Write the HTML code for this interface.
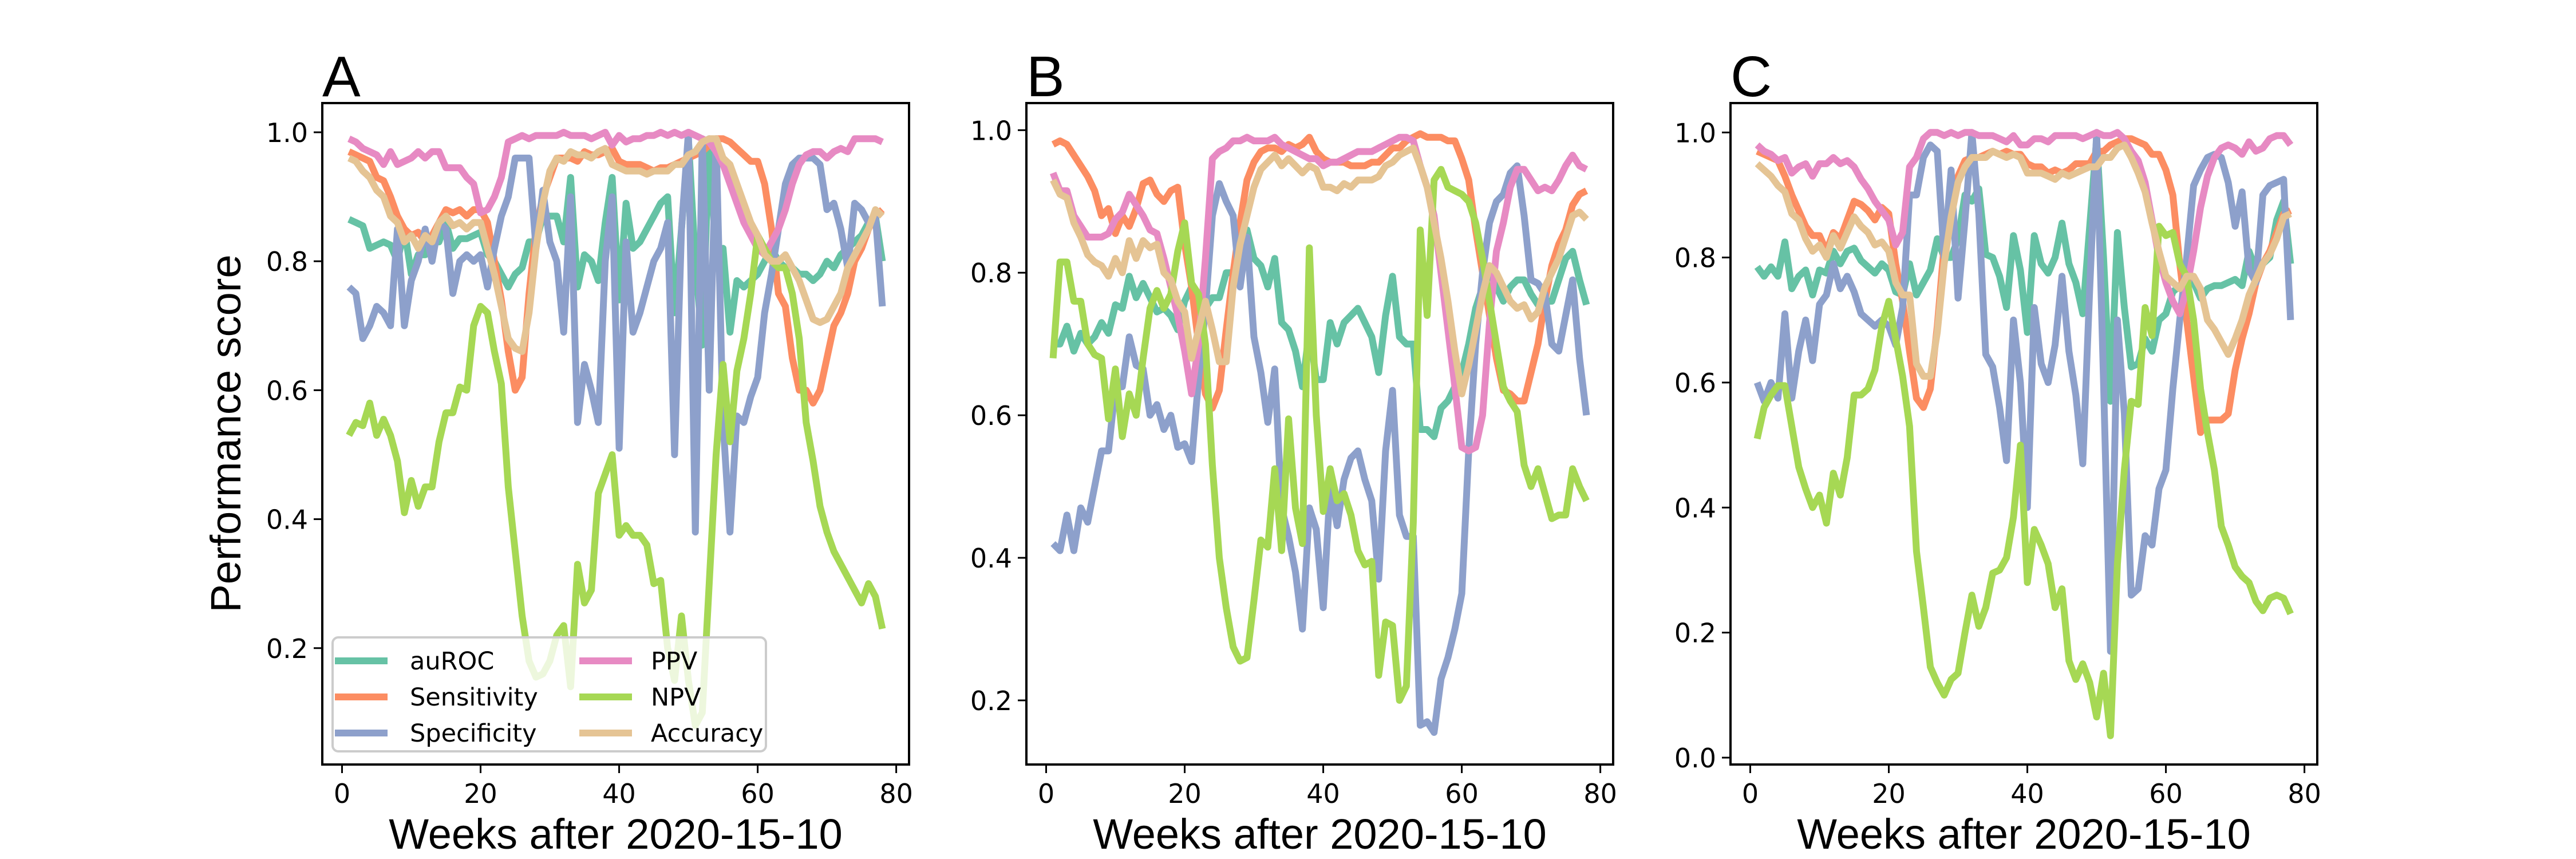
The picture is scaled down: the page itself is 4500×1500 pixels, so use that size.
<!DOCTYPE html>
<html><head><meta charset="utf-8"><style>
html,body{margin:0;padding:0;background:#fff;}
svg{display:block;}
.tick{font-family:"DejaVu Sans","Liberation Sans",sans-serif;font-size:46px;fill:#000;}
.lab{font-family:"Liberation Sans",sans-serif;fill:#000;}
.leg{font-family:"DejaVu Sans","Liberation Sans",sans-serif;font-size:43px;fill:#000;}
</style></head><body>
<svg id="fig" width="4500" height="1500" viewBox="0 0 4500 1500" xmlns="http://www.w3.org/2000/svg"></svg>
<script>
const seriesNames = ["auROC","Sensitivity","Specificity","PPV","NPV","Accuracy"];
const seriesColors = ["#66c2a5","#fc8d62","#8da0cb","#e78ac3","#a6d854","#e5c494"];
const panelLetters = ["A","B","C"];
const xTicks = [0,20,40,60,80];
const yTicksA = [0.2,0.4,0.6,0.8,1.0];
const yTicksB = [0.2,0.4,0.6,0.8,1.0];
const yTicksC = [0.0,0.2,0.4,0.6,0.8,1.0];

const aAuroc = [.865,.86,.855,.82,.825,.83,.825,.80,.85,.78, .81,.81,.84,.83,.86,.82,.835,.835,.84,.845, .81,.80,.78,.76,.78,.79,.83,.83,.87,.87, .87,.83,.93,.76,.81,.80,.77,.86,.93,.74, .89,.82,.83,.85,.87,.89,.90,.72,.85,.99, .80,.67,.99,.80,.82,.69,.77,.76,.77,.78, .80,.82,.80,.79,.79,.78,.78,.77,.78,.80, .79,.81,.82,.83,.84,.86,.87,.80];
const aSens = [.97,.965,.96,.955,.93,.925,.90,.87,.85,.84, .845,.83,.84,.86,.88,.875,.88,.87,.88,.88, .86,.80,.74,.66,.60,.62,.75,.85,.90,.93, .96,.96,.96,.955,.97,.965,.965,.97,.975,.955, .95,.95,.95,.945,.94,.945,.945,.95,.955,.96, .965,.97,.98,.99,.99,.985,.975,.965,.955,.955, .92,.85,.75,.73,.65,.60,.60,.58,.60,.65, .70,.72,.75,.80,.82,.85,.87,.88];
const aSpec = [.76,.75,.68,.70,.73,.72,.70,.85,.70,.77, .80,.85,.80,.86,.85,.75,.80,.81,.80,.81, .76,.82,.87,.90,.96,.96,.96,.82,.91,.83, .80,.69,.90,.55,.64,.60,.55,.80,.90,.51, .83,.69,.72,.76,.80,.82,.86,.50,.85,1.0, .38,.99,.60,.99,.55,.38,.56,.55,.59,.62, .72,.78,.85,.92,.95,.96,.96,.96,.95,.88, .89,.85,.79,.89,.88,.86,.87,.73];
const aPpv = [.99,.985,.975,.97,.965,.95,.97,.95,.955,.96, .97,.96,.97,.97,.945,.945,.945,.93,.92,.875, .88,.90,.93,.985,.99,.995,.99,.995,.995,.995, .995,1.0,.995,.995,.995,.99,.995,1.0,.98,.995, .985,.99,.99,.995,.995,1.0,.995,1.0,.995,1.0, .995,.99,.985,.97,.95,.92,.89,.86,.84,.82, .81,.83,.85,.88,.92,.95,.965,.97,.97,.96, .97,.975,.97,.99,.99,.99,.99,.985];
const aNpv = [.53,.55,.545,.58,.53,.555,.53,.49,.41,.46, .42,.45,.45,.52,.565,.565,.605,.60,.70,.73, .72,.66,.61,.45,.35,.25,.18,.155,.16,.18, .22,.235,.14,.33,.27,.29,.44,.47,.50,.375, .39,.375,.375,.36,.30,.305,.20,.15,.25,.15, .08,.10,.30,.50,.64,.52,.63,.68,.75,.84, .82,.80,.79,.79,.75,.68,.55,.49,.42,.38, .35,.33,.31,.29,.27,.30,.28,.23];
const aAcc = [.96,.955,.94,.93,.91,.90,.87,.86,.83,.84, .82,.84,.83,.86,.87,.855,.86,.85,.86,.86, .82,.78,.73,.68,.665,.66,.72,.82,.89,.94, .96,.955,.97,.965,.965,.96,.97,.975,.95,.945, .94,.94,.94,.935,.94,.94,.94,.95,.95,.965, .97,.985,.99,.99,.96,.95,.92,.89,.86,.84, .81,.80,.80,.81,.79,.77,.74,.71,.705,.71, .73,.75,.79,.81,.83,.85,.88,.87];

const bAuroc = [.70,.70,.725,.69,.715,.70,.71,.73,.715,.755, .75,.795,.765,.785,.765,.745,.75,.74,.72,.76, .78,.75,.75,.765,.765,.80,.80,.82,.86,.82, .81,.78,.82,.73,.72,.69,.64,.72,.65,.65, .73,.70,.73,.74,.75,.73,.71,.66,.74,.795, .71,.70,.70,.58,.58,.57,.61,.62,.64,.66, .70,.75,.78,.80,.78,.76,.78,.79,.79,.77, .755,.76,.76,.79,.82,.83,.79,.755];
const bSens = [.98,.985,.98,.965,.95,.935,.915,.88,.89,.855, .88,.865,.89,.925,.93,.91,.90,.915,.92,.84, .78,.70,.63,.61,.635,.72,.80,.87,.93,.955, .97,.975,.975,.97,.98,.975,.98,.99,.97,.96, .955,.955,.955,.95,.95,.95,.955,.955,.965,.975, .975,.985,.99,.995,.99,.99,.99,.985,.985,.96, .93,.86,.80,.74,.68,.635,.63,.62,.62,.66, .70,.76,.81,.84,.86,.895,.91,.915];
const bSpec = [.42,.41,.46,.41,.47,.45,.50,.55,.55,.64, .64,.71,.67,.665,.60,.615,.58,.60,.555,.56, .535,.65,.75,.88,.925,.90,.88,.78,.85,.71, .66,.59,.665,.47,.43,.38,.30,.47,.44,.33, .50,.445,.51,.54,.55,.51,.48,.37,.55,.635, .46,.43,.43,.165,.17,.155,.23,.26,.30,.35, .55,.70,.80,.87,.90,.91,.94,.95,.88,.79, .785,.77,.70,.69,.74,.79,.68,.60];
const bPpv = [.94,.915,.915,.88,.865,.85,.85,.85,.855,.875, .885,.91,.895,.88,.86,.855,.82,.78,.74,.69, .63,.70,.82,.96,.97,.975,.985,.985,.99,.985, .985,.985,.99,.98,.975,.97,.965,.96,.96,.95, .955,.955,.96,.965,.97,.97,.97,.975,.98,.985, .99,.99,.985,.95,.92,.88,.80,.72,.64,.555, .55,.555,.60,.73,.83,.87,.92,.945,.945,.93, .915,.92,.915,.93,.95,.965,.95,.945];
const bNpv = [.68,.815,.815,.76,.76,.70,.685,.68,.595,.665, .57,.63,.60,.68,.75,.775,.75,.77,.83,.87, .785,.77,.70,.53,.40,.33,.275,.255,.26,.34, .425,.415,.525,.41,.595,.47,.42,.835,.60,.465, .525,.48,.49,.46,.41,.39,.395,.235,.31,.305, .20,.22,.45,.86,.74,.93,.945,.92,.915,.91, .90,.87,.82,.76,.70,.64,.62,.605,.53,.50, .525,.49,.455,.46,.46,.525,.50,.48];
const bAcc = [.93,.91,.905,.87,.85,.825,.815,.81,.795,.82, .80,.845,.82,.845,.835,.84,.80,.79,.76,.745, .68,.72,.76,.72,.675,.675,.78,.84,.88,.92, .945,.955,.965,.95,.96,.95,.94,.95,.945,.92, .92,.915,.925,.92,.93,.93,.93,.935,.95,.955, .965,.97,.975,.95,.92,.87,.82,.76,.69,.63, .67,.72,.77,.81,.80,.78,.76,.75,.755,.735, .745,.78,.80,.82,.85,.88,.885,.875];

const cAuroc = [.785,.77,.785,.77,.825,.75,.77,.78,.74,.78, .775,.81,.79,.81,.815,.795,.785,.775,.79,.78, .745,.74,.79,.74,.76,.78,.83,.80,.80,.83, .90,.89,.91,.805,.80,.77,.72,.835,.78,.68, .835,.79,.775,.80,.855,.79,.76,.71,.85,.99, .80,.57,.84,.72,.625,.63,.67,.65,.70,.71, .745,.755,.76,.76,.735,.75,.755,.755,.76,.765, .755,.81,.78,.79,.80,.86,.89,.79];
const cSens = [.97,.965,.96,.955,.93,.90,.875,.85,.835,.835, .81,.84,.83,.86,.89,.885,.875,.86,.88,.87, .79,.73,.65,.575,.56,.59,.69,.82,.88,.93, .955,.96,.96,.965,.97,.965,.97,.965,.965,.95, .945,.945,.935,.94,.935,.94,.95,.95,.95,.97, .97,.98,.985,.99,.99,.985,.98,.965,.965,.94, .90,.79,.70,.61,.52,.54,.54,.54,.55,.62, .67,.71,.76,.79,.81,.84,.87,.875];
const cSpec = [.60,.57,.60,.575,.71,.575,.65,.70,.635,.725, .74,.79,.75,.77,.745,.71,.70,.69,.70,.69, .66,.72,.90,.90,.96,.98,.97,.80,.94,.735, .86,1.0,.87,.645,.625,.56,.475,.70,.60,.40, .72,.63,.60,.66,.77,.65,.58,.47,.75,1.0, .60,.17,.70,.55,.26,.27,.355,.34,.43,.46, .59,.70,.80,.915,.94,.96,.965,.96,.92,.85, .905,.78,.76,.90,.915,.92,.925,.70];
const cPpv = [.98,.97,.965,.955,.96,.935,.945,.95,.93,.95, .95,.96,.95,.955,.945,.925,.91,.89,.875,.86, .82,.84,.945,.96,.99,1.0,1.0,.995,1.0,.995, 1.0,1.0,.995,.995,.995,.99,.985,.995,.98,.98, .99,.99,.985,.995,.995,.995,.995,.99,.995,1.0, .995,.995,1.0,.99,.97,.955,.92,.86,.80,.76, .73,.71,.75,.81,.88,.93,.96,.975,.98,.975, .965,.985,.97,.975,.99,.995,.995,.98];
const cNpv = [.51,.56,.58,.595,.595,.53,.465,.43,.40,.42, .375,.455,.42,.48,.58,.58,.59,.62,.69,.73, .67,.61,.53,.33,.24,.145,.12,.10,.125,.135, .20,.26,.21,.24,.295,.30,.32,.385,.50,.28, .365,.34,.31,.24,.27,.155,.125,.15,.12,.065, .135,.035,.31,.46,.57,.565,.72,.675,.85,.835, .84,.79,.77,.70,.59,.52,.46,.37,.34,.305, .29,.28,.25,.235,.255,.26,.255,.23];
const cAcc = [.95,.94,.93,.915,.905,.87,.86,.83,.81,.82, .80,.835,.815,.84,.865,.85,.84,.82,.825,.81, .76,.74,.74,.63,.61,.61,.68,.79,.865,.92, .945,.96,.96,.96,.97,.965,.96,.965,.96,.935, .935,.935,.93,.925,.935,.93,.935,.94,.945,.945, .96,.96,.975,.98,.96,.935,.905,.855,.81,.77, .76,.75,.77,.77,.75,.70,.685,.665,.645,.67, .70,.74,.765,.79,.805,.83,.865,.87];

const panelData = [
  [aAuroc,aSens,aSpec,aPpv,aNpv,aAcc],
  [bAuroc,bSens,bSpec,bPpv,bNpv,bAcc],
  [cAuroc,cSens,cSpec,cPpv,cNpv,cAcc]
];
const panelYTicks = [yTicksA,yTicksB,yTicksC];
const panelYLim = [[0.0195,1.0453],[0.110,1.038],[-0.011,1.047]];

const NS = "http://www.w3.org/2000/svg";
const svg = document.getElementById("fig");
function mk(tag, attrs, parent){
  const e = document.createElementNS(NS, tag);
  for (const k in attrs) e.setAttribute(k, attrs[k]);
  (parent||svg).appendChild(e);
  return e;
}
const W = 1025, TOP = 180, BOT = 1335, XMIN = -2.85, XMAX = 81.85;
const lefts = [563, 1793, 3023];
const defs = mk("defs", {});

for (let p = 0; p < 3; p++) {
  const L = lefts[p];
  const [ymin, ymax] = panelYLim[p];
  const xs = v => L + (v - XMIN) / (XMAX - XMIN) * W;
  const ys = v => BOT - (v - ymin) / (ymax - ymin) * (BOT - TOP);
  const g = mk("g", {});
  
  

  const cp = mk("clipPath", {id: "clip" + p}, defs);
  mk("rect", {x: L, y: TOP, width: W, height: BOT - TOP}, cp);

  // series
  const lines = mk("g", {"clip-path": "url(#clip" + p + ")"}, g);
  for (let s = 0; s < 6; s++) {
    const vals = panelData[p][s];
    const d = vals.map((v, i) => (i ? "L" : "M") + xs(i + 1).toFixed(1) + "," + ys(v).toFixed(1)).join(" ");
    const path = mk("path", {d: d, fill: "none", stroke: seriesColors[s], "stroke-width": 12, "stroke-linejoin": "round", "stroke-linecap": "butt"}, lines);
    
    
  }

  // x ticks
  xTicks.forEach(t => {
    const x = xs(t);
    mk("line", {x1: x, x2: x, y1: BOT, y2: BOT + 15, stroke: "#000", "stroke-width": 3}, g);
    const tx = mk("text", {x: x, y: 1402, "text-anchor": "middle", class: "tick"}, g);
    tx.textContent = String(t);
    
    
  });
  // y ticks
  panelYTicks[p].forEach(t => {
    const y = ys(t);
    mk("line", {x1: L - 15, x2: L, y1: y, y2: y, stroke: "#000", "stroke-width": 3}, g);
    const ty = mk("text", {x: L - 25, y: y + 17, "text-anchor": "end", class: "tick"}, g);
    ty.textContent = t.toFixed(1);
    
    
  });
  // frame
  const fr = mk("rect", {x: L, y: TOP, width: W, height: BOT - TOP, fill: "none", stroke: "#000", "stroke-width": 4}, g);
  
  
  // panel letter
  const pl = mk("text", {x: L, y: 168, class: "lab", "font-size": 100}, g);
  pl.textContent = panelLetters[p];
  
  
  // x label
  const xl = mk("text", {x: L + W / 2, y: 1482, class: "lab", "font-size": 74, "text-anchor": "middle"}, g);
  xl.textContent = "Weeks after 2020-15-10";
  
  
}

// y label
const yl = mk("text", {x: 0, y: 0, class: "lab", "font-size": 74, "text-anchor": "middle", transform: "translate(420,757) rotate(-90)"});
yl.textContent = "Performance score";



// legend
const lg = mk("g", {});


mk("rect", {x: 581, y: 1113, width: 757, height: 199, rx: 10, fill: "#fff", "fill-opacity": 0.8, stroke: "#cccccc", "stroke-width": 4}, lg);
const legX = [585, 1012], legTX = [716, 1137], legY = [1154, 1217, 1280];
for (let s = 0; s < 6; s++) {
  const col = s < 3 ? 0 : 1, row = s % 3;
  const e = mk("g", {}, lg);
  
  
  mk("line", {x1: legX[col], x2: legX[col] + 92, y1: legY[row], y2: legY[row], stroke: seriesColors[s], "stroke-width": 12}, e);
  const t = mk("text", {x: legTX[col], y: legY[row] + 15, class: "leg"}, e);
  t.textContent = seriesNames[s];
}
</script>
</body></html>
